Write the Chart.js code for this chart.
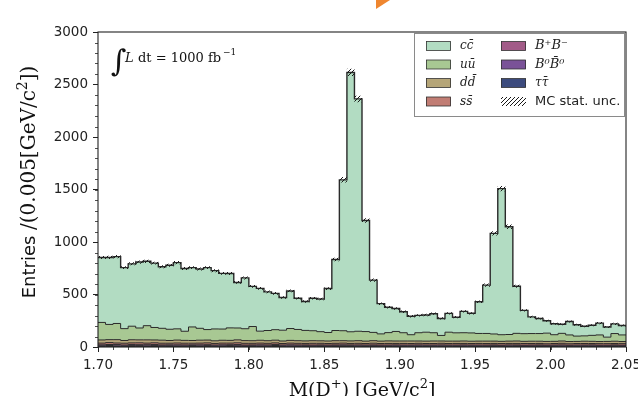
<!DOCTYPE html>
<html lang="en">
<head>
<meta charset="UTF-8">
<title>M(D+) stacked MC</title>
<script src="https://cdn.jsdelivr.net/npm/chart.js@4.4.1/dist/chart.umd.min.js"></script>
<style>
  html, body { margin: 0; padding: 0; background: #fff; overflow: hidden; }
  #wrap { position: absolute; left: 0; top: 0; width: 680px; height: 430px; }
</style>
</head>
<body>
<div id="wrap"><canvas id="chart" width="680" height="430"></canvas></div>
<script>
// binning: 70 bins of 0.005 GeV/c^2 from 1.700 to 2.050
const binLow = 1.70;
const binWidth = 0.005;
const xTicks = [1.70, 1.75, 1.80, 1.85, 1.90, 1.95, 2.00, 2.05];
const yTicks = [0, 500, 1000, 1500, 2000, 2500, 3000];

// entries per bin, one array per sample (bottom of the stack first)
const tautau = [4,5,4,3,5,4,4,5,3,4, 4,3,5,4,4,3,4,5,4,3, 4,4,3,5,4,3,4,4,3,4,
                3,4,5,4,3,4,4,3,4,3, 4,3,4,4,3,4,3,4,4,3, 4,3,4,3,4,4,3,3,4,3,
                4,3,3,4,3,4,3,3,4,3];
const b0b0 = [8,9,7,8,8,9,7,8,9,8, 7,8,8,7,9,8,7,8,8,7, 8,7,8,9,7,8,7,8,7,8,
              7,8,7,8,8,7,8,7,7,8, 7,8,7,7,8,7,8,7,7,8, 7,7,8,7,7,8,7,7,8,7,
              7,8,7,7,8,7,7,7,8,7];
const bpbm = [9,10,12,8,10,9,11,10,8,9, 10,9,8,10,9,8,10,9,11,9, 8,10,9,9,8,10,9,8,9,8,
              9,8,9,8,9,8,8,9,8,9, 8,8,9,8,8,9,8,8,9,8, 8,9,8,8,9,8,8,9,8,8,
              8,9,8,8,8,9,8,8,8,8];
const ssbar = [16,18,15,17,16,18,15,17,16,15, 17,16,15,16,17,15,16,15,17,16, 15,16,15,16,14,16,15,14,16,15,
               14,15,16,14,15,14,16,14,15,14, 15,14,15,14,14,15,14,15,14,14, 15,14,14,15,14,14,15,14,14,13,
               14,15,13,14,14,13,14,14,13,14];
const ddbar = [30,28,32,26,30,28,31,27,29,26, 28,27,26,28,27,25,27,26,28,26, 25,27,25,26,24,26,25,24,25,24,
               24,25,23,24,25,23,24,23,24,23, 23,24,22,23,24,22,23,22,23,22, 22,23,22,21,22,23,21,22,21,22,
               21,22,21,20,22,21,20,21,22,20];
const uubar = [167,145,154,113,129,113,135,119,113,107, 107,87,129,113,100,113,107,119,113,113,
               135,87,97,100,103,113,107,100,95,87, 81,97,95,87,90,91,79,69,79,91,
               79,60,79,85,79,53,85,79,79,79, 73,73,68,63,63,73,73,73,73,79,
               63,73,63,51,51,57,63,41,73,63];
const ccbar = [618,638,637,581,594,628,613,613,587,609, 631,597,565,565,590,555,530,518,434,484,
               382,407,368,346,311,358,298,276,310,311, 419,676,1437,2470,2213,1058,498,288,242,218,
               200,176,165,164,181,162,179,149,203,187, 302,460,958,1391,1026,448,222,159,143,118,
               105,86,128,108,92,96,112,96,92,90];
// MC statistical uncertainty (half width) on the total per bin
const mcUnc = [15,15,15,14,14,15,15,14,14,14, 15,14,14,14,14,14,14,14,13,14,
               13,13,13,13,12,13,12,12,12,12, 13,17,26,34,31,22,15,12,12,12,
               11,11,11,11,11,11,11,11,11,11, 12,15,21,25,21,14,11,10,10,10,
               10,10,10,10,10,10,10,10,10,10];

const samples = [
  { name: 'tautau', data: tautau, color: '#3c4b7d' },
  { name: 'B0B0',   data: b0b0,   color: '#7a5298' },
  { name: 'BpBm',   data: bpbm,   color: '#a25b88' },
  { name: 'ss',     data: ssbar,  color: '#c17d74' },
  { name: 'dd',     data: ddbar,  color: '#b5a578' },
  { name: 'uu',     data: uubar,  color: '#a8c893' },
  { name: 'cc',     data: ccbar,  color: '#b2dcc2' },
];
const nBins = ccbar.length;

// value of a bin is held from its left edge to the next edge
function stepPoints(vals) {
  const pts = vals.map((v, i) => ({ x: binLow + i * binWidth, y: v }));
  pts.push({ x: binLow + nBins * binWidth, y: vals[nBins - 1] });
  return pts;
}

function hatchPattern() {
  const p = document.createElement('canvas');
  p.width = 4; p.height = 4;
  const g = p.getContext('2d');
  g.strokeStyle = '#1a1a1a';
  g.lineWidth = 1;
  g.beginPath();
  g.moveTo(0, 4); g.lineTo(4, 0);
  g.moveTo(-1, 1); g.lineTo(1, -1);
  g.moveTo(3, 5); g.lineTo(5, 3);
  g.stroke();
  return g.createPattern(p, 'repeat');
}
const hatch = hatchPattern();

// stacked step outlines
let running = new Array(nBins).fill(0);
const datasets = samples.map((s, k) => {
  running = running.map((sum, i) => sum + s.data[i]);
  return {
    label: s.name,
    data: stepPoints(running),
    stepped: 'before',
    fill: k === 0 ? 'origin' : '-1',
    backgroundColor: s.color,
    borderColor: '#2a2a2a',
    borderWidth: k === samples.length - 1 ? 1.4 : 1,
    pointRadius: 0,
  };
});
const total = running;
datasets.push({
  label: 'unc-low',
  data: stepPoints(total.map((t, i) => t - mcUnc[i])),
  stepped: 'before', fill: false, pointRadius: 0, order: -1,
  borderColor: 'rgba(0,0,0,0)', borderWidth: 0,
});
datasets.push({
  label: 'MC stat. unc.',
  data: stepPoints(total.map((t, i) => t + mcUnc[i])),
  stepped: 'before', fill: '-1', pointRadius: 0, order: -1,
  backgroundColor: hatch,
  borderColor: 'rgba(0,0,0,0)', borderWidth: 0,
});

const legendItems = [
  { col: 0, row: 0, color: '#b2dcc2', text: 'c' + 'c\u0304', math: true },
  { col: 0, row: 1, color: '#a8c893', text: 'u' + 'u\u0304', math: true },
  { col: 0, row: 2, color: '#b5a578', text: 'd' + 'd\u0304', math: true },
  { col: 0, row: 3, color: '#c17d74', text: 's' + 's\u0304', math: true },
  { col: 1, row: 0, color: '#a25b88', text: 'B\u207AB\u207B', math: true, big: true },
  { col: 1, row: 1, color: '#7a5298', text: 'B\u2070B\u0304\u2070', math: true, big: true },
  { col: 1, row: 2, color: '#3c4b7d', text: '\u03C4\u03C4\u0304', math: true },
  { col: 1, row: 3, color: null, text: 'MC stat. unc.', math: false },
];

const decor = {
  id: 'decor',
  beforeDraw(chart) {
    const c = chart.ctx;
    c.save();
    c.fillStyle = '#fff';
    c.fillRect(0, 0, chart.width, chart.height);
    c.restore();
  },
  afterDraw(chart) {
    const { ctx, chartArea: a, scales: { x, y } } = chart;
    ctx.save();

    // frame
    ctx.strokeStyle = '#222';
    ctx.lineWidth = 1.1;
    ctx.strokeRect(a.left, a.top, a.right - a.left, a.bottom - a.top);

    // minor ticks
    ctx.lineWidth = 0.8;
    ctx.beginPath();
    for (let v = 1.70; v < 2.0501; v += 0.01) {
      const px = Math.round(x.getPixelForValue(v)) + 0.5;
      ctx.moveTo(px, a.bottom); ctx.lineTo(px, a.bottom + 3);
    }
    for (let v = 0; v <= 3000; v += 100) {
      const py = Math.round(y.getPixelForValue(v)) + 0.5;
      ctx.moveTo(a.left, py); ctx.lineTo(a.left - 3, py);
    }
    ctx.stroke();

    // legend
    ctx.fillStyle = '#fff';
    ctx.strokeStyle = '#8a8a8a';
    ctx.lineWidth = 1;
    ctx.fillRect(414.5, 33.5, 210, 83);
    ctx.strokeRect(414.5, 33.5, 210, 83);
    const rowY = [46, 64.5, 83, 101.5];
    const patchX = [426, 501];
    const textX = [460, 535];
    legendItems.forEach(it => {
      const cy = rowY[it.row];
      const px = patchX[it.col];
      if (it.color) {
        ctx.fillStyle = it.color;
        ctx.fillRect(px, cy - 4.5, 25, 9);
        ctx.strokeStyle = '#333';
        ctx.lineWidth = 0.8;
        ctx.strokeRect(px + 0.5, cy - 4.5, 24, 9);
      } else {
        ctx.fillStyle = hatch;
        ctx.fillRect(px, cy - 4.5, 25, 9);
      }
      ctx.fillStyle = '#222';
      ctx.textBaseline = 'middle';
      ctx.textAlign = 'left';
      if (it.math) {
        ctx.font = 'italic ' + (it.big ? 13 : 12) + 'px "DejaVu Serif"';
      } else {
        ctx.font = '13px "DejaVu Sans"';
      }
      ctx.fillText(it.text, textX[it.col], cy);
    });

    // luminosity
    ctx.fillStyle = '#111';
    ctx.textBaseline = 'alphabetic';
    ctx.font = '30px "DejaVu Serif"';
    ctx.fillText('\u222B', 111, 71);
    ctx.font = 'italic 13px "DejaVu Serif"';
    ctx.fillText('L', 125, 62);
    ctx.font = '13px "DejaVu Serif"';
    ctx.fillText('dt = 1000 fb', 138, 62);
    ctx.font = '9px "DejaVu Serif"';
    ctx.fillText('\u22121', 223, 55);

    // y title
    ctx.save();
    ctx.translate(30, 182);
    ctx.rotate(-Math.PI / 2);
    ctx.textBaseline = 'middle';
    const parts = [
      { t: 'Entries ', f: '18px "DejaVu Sans"', dy: 0 },
      { t: '/(0.005[GeV/c', f: '20px "DejaVu Serif"', dy: 0 },
      { t: '2', f: '14px "DejaVu Serif"', dy: -7 },
      { t: '])', f: '20px "DejaVu Serif"', dy: 0 },
    ];
    let w = 0;
    parts.forEach(p => { ctx.font = p.f; w += ctx.measureText(p.t).width; });
    let cx = -w / 2;
    parts.forEach(p => { ctx.font = p.f; ctx.fillText(p.t, cx, p.dy); cx += ctx.measureText(p.t).width; });
    ctx.restore();

    // x title (cut by the window bottom)
    const xparts = [
      { t: 'M(D', f: '19px "DejaVu Serif"', dy: 0 },
      { t: '+', f: '13px "DejaVu Serif"', dy: -8 },
      { t: ') [GeV/c', f: '19px "DejaVu Serif"', dy: 0 },
      { t: '2', f: '13px "DejaVu Serif"', dy: -8 },
      { t: ']', f: '19px "DejaVu Serif"', dy: 0 },
    ];
    ctx.textBaseline = 'alphabetic';
    w = 0;
    xparts.forEach(p => { ctx.font = p.f; w += ctx.measureText(p.t).width; });
    cx = (a.left + a.right) / 2 - w / 2;
    xparts.forEach(p => { ctx.font = p.f; ctx.fillText(p.t, cx, 396 + p.dy); cx += ctx.measureText(p.t).width; });

    // orange mark at top edge
    ctx.fillStyle = '#ef862f';
    ctx.beginPath();
    ctx.moveTo(376, 0); ctx.lineTo(390, 0); ctx.lineTo(376, 9);
    ctx.closePath();
    ctx.fill();

    ctx.restore();
  }
};

const tickFont = { family: 'DejaVu Sans', size: 13.5 };

new Chart(document.getElementById('chart'), {
  type: 'line',
  data: { datasets },
  options: {
    responsive: false,
    devicePixelRatio: 1,
    animation: false,
    layout: { padding: { left: 0, right: 54, top: 32, bottom: 43 } },
    plugins: { legend: { display: false }, tooltip: { enabled: false } },
    scales: {
      x: {
        type: 'linear', min: 1.70, max: 2.05,
        afterBuildTicks: s => { s.ticks = xTicks.map(v => ({ value: v })); },
        afterFit: s => { s.height = 40; },
        ticks: { font: tickFont, color: '#222', padding: 5, maxRotation: 0, autoSkip: false,
                 callback: v => Number(v).toFixed(2) },
        grid: { drawOnChartArea: false, tickLength: 5, color: '#222' },
        border: { display: false },
      },
      y: {
        type: 'linear', min: 0, max: 3000,
        afterBuildTicks: s => { s.ticks = yTicks.map(v => ({ value: v })); },
        afterFit: s => { s.width = 98; },
        ticks: { font: tickFont, color: '#222', padding: 5, callback: v => String(v) },
        grid: { drawOnChartArea: false, tickLength: 5, color: '#222' },
        border: { display: false },
      },
    },
  },
  plugins: [decor],
});
</script>
</body>
</html>
